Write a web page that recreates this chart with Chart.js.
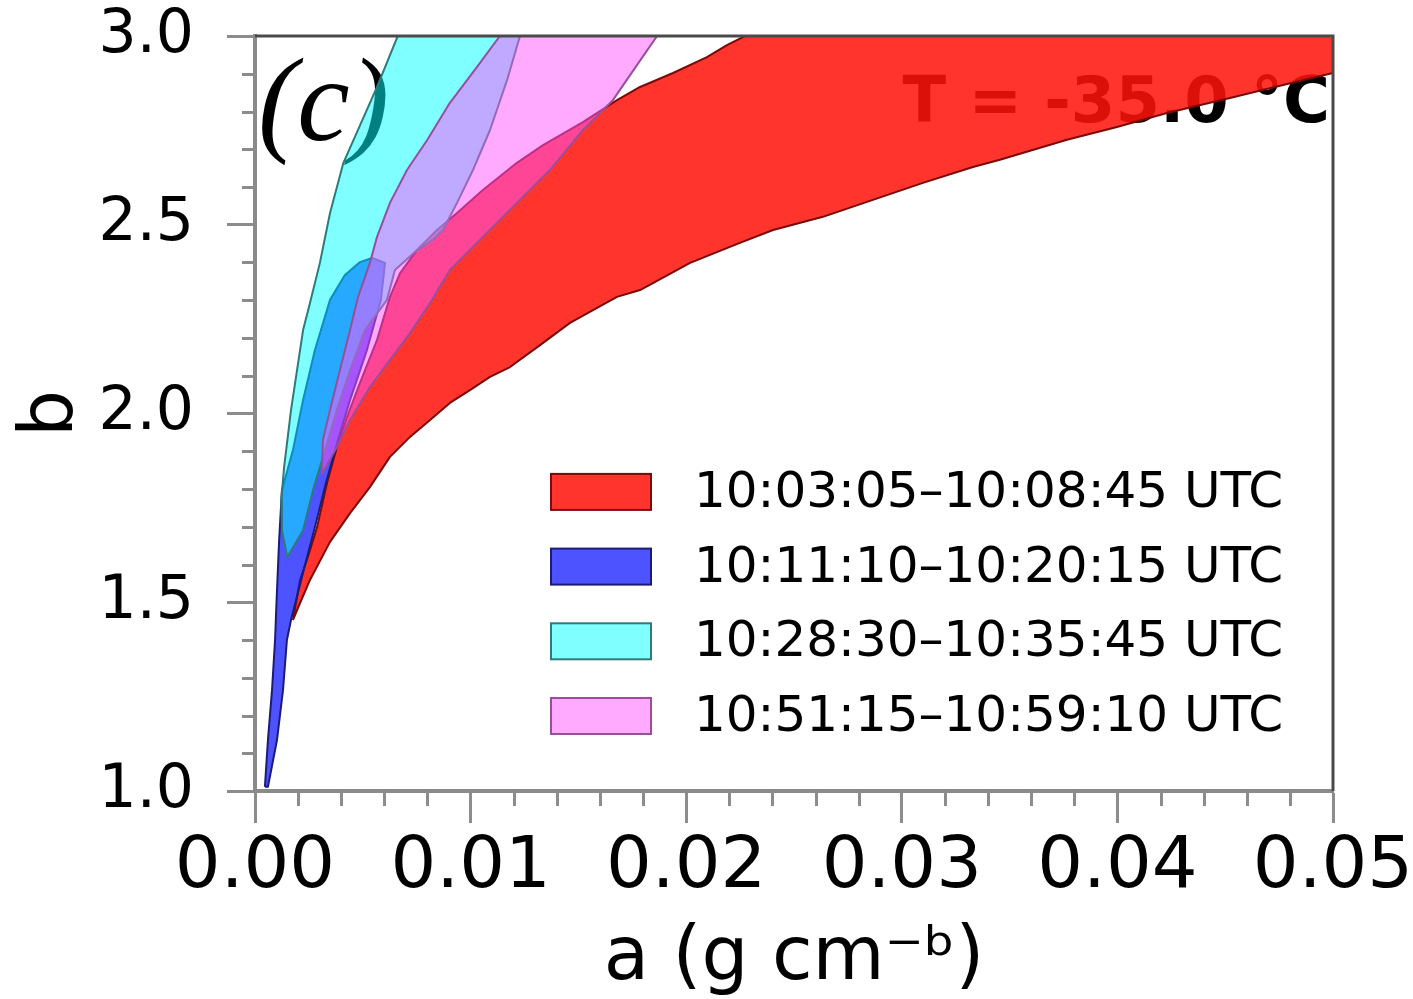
<!DOCTYPE html>
<html>
<head>
<meta charset="utf-8">
<script src="https://cdn.jsdelivr.net/npm/chart.js@4.4.1/dist/chart.umd.min.js"></script>
<style>
  body { margin: 0; background: #fff; }
  canvas { display: block; }
</style>
</head>
<body>
<canvas id="graph_ab" width="1413" height="999"></canvas>
<script>
// panel (c): allowed (a, b) envelopes at T = -35.0 C
// every band is one closed outline: lower/right edge outward, upper/left edge back

var bandLabels = ['10:03:05\u201310:08:45 UTC', '10:11:10\u201310:20:15 UTC',
                  '10:28:30\u201310:35:45 UTC', '10:51:15\u201310:59:10 UTC'];

var redA = [0.00176, 0.00209, 0.00255, 0.00348, 0.00441, 0.00533, 0.00626, 0.00719, 0.00812, 0.00904,
            0.00997, 0.0109, 0.01183, 0.01322, 0.01461, 0.01679, 0.01786, 0.02018, 0.02249, 0.02403,
            0.02634, 0.02866, 0.03098, 0.0333, 0.03455, 0.03766, 0.03998, 0.0423, 0.04536, 0.04768,
            0.05, 0.05, 0.02273, 0.02189, 0.02096, 0.01939, 0.01786, 0.01679, 0.01521, 0.01336,
            0.01215, 0.01057, 0.00937, 0.00844, 0.00751, 0.00673, 0.00626, 0.00566, 0.00487, 0.00427,
            0.0038, 0.00334, 0.00288, 0.00241, 0.00209, 0.00176];
var redB = [1.453, 1.498, 1.559, 1.660, 1.736, 1.805, 1.885, 1.938, 1.983, 2.028,
            2.062, 2.097, 2.123, 2.181, 2.240, 2.309, 2.327, 2.399, 2.452, 2.486,
            2.521, 2.566, 2.611, 2.653, 2.672, 2.725, 2.759, 2.796, 2.838, 2.870,
            2.902, 3.0, 3.0, 2.976, 2.944, 2.902, 2.865, 2.830, 2.772, 2.711,
            2.664, 2.592, 2.531, 2.486, 2.433, 2.372, 2.309, 2.195, 2.081, 1.991,
            1.911, 1.816, 1.699, 1.612, 1.559, 1.453];

var blueA = [0.00046, 0.0006, 0.00079, 0.00093, 0.00102, 0.00112, 0.00125, 0.00176, 0.00223, 0.00278,
             0.00348, 0.00417, 0.00487, 0.00543, 0.00603, 0.00584, 0.00519, 0.00441, 0.00385, 0.00329,
             0.00278, 0.00232, 0.00167, 0.00148, 0.0013, 0.00102, 0.0006, 0.00046];
var blueB = [1.011, 1.135, 1.268, 1.400, 1.532, 1.665, 1.797, 1.903, 2.036, 2.168,
             2.301, 2.367, 2.401, 2.412, 2.399, 2.301, 2.168, 2.036, 1.930, 1.816,
             1.699, 1.599, 1.453, 1.400, 1.268, 1.135, 1.011, 1.011];

var cyanA = [0.00662, 0.00566, 0.0041, 0.00348, 0.00301, 0.00255, 0.00223, 0.00209, 0.00167, 0.00135,
             0.00122, 0.00125, 0.0015, 0.00223, 0.00269, 0.00325, 0.0038, 0.00441, 0.0051, 0.00612,
             0.00649, 0.00742, 0.00825, 0.00872, 0.00937, 0.01011, 0.0109, 0.01169, 0.01229, 0.00662];
var cyanB = [3.0, 2.865, 2.664, 2.531, 2.399, 2.293, 2.221, 2.168, 2.009, 1.858,
             1.771, 1.690, 1.620, 1.691, 1.797, 1.903, 2.009, 2.115, 2.221, 2.301,
             2.380, 2.428, 2.460, 2.486, 2.558, 2.645, 2.751, 2.883, 3.0, 3.0];

var pinkA = [0.01136, 0.0103, 0.00904, 0.00798, 0.00705, 0.00626, 0.00566, 0.00533, 0.00478, 0.00441,
             0.00394, 0.00348, 0.00315, 0.0031, 0.0038, 0.00441, 0.00533, 0.00626, 0.00719, 0.00821,
             0.00904, 0.01057, 0.01215, 0.01368, 0.01521, 0.0166, 0.01762, 0.01865, 0.01136];
var pinkB = [3.0, 2.918, 2.823, 2.724, 2.645, 2.558, 2.468, 2.399, 2.309, 2.221,
             2.115, 2.009, 1.930, 1.840, 1.911, 1.983, 2.070, 2.142, 2.213, 2.301,
             2.380, 2.468, 2.558, 2.645, 2.751, 2.830, 2.915, 3.0, 3.0];

var xTickValues = [0.00, 0.01, 0.02, 0.03, 0.04, 0.05];
var yTickValues = [1.0, 1.5, 2.0, 2.5, 3.0];

function toPoints(a, b) {
    var pts = [];
    for (var i = 0; i < a.length; i++) {
        pts.push({x: a[i], y: b[i]});
    }
    return pts;
}

var sansFont = "'DejaVu Sans', 'Noto Sans', sans-serif";
var tickGray = '#8c8c8c';

function band(label, a, b, fillColor, lineColor, order) {
    return {
        label: label,
        data: toPoints(a, b),
        showLine: true,
        fill: 'shape',
        backgroundColor: fillColor,
        borderColor: lineColor,
        borderWidth: 2,
        borderJoinStyle: 'round',
        pointRadius: 0,
        tension: 0,
        order: order
    };
}

// minor ticks, top/right frame, panel letter, temperature, legend
var decorPlugin = {
    id: 'decor',
    beforeDatasetsDraw: function (chart) {
        var ctx = chart.ctx;
        var area = chart.chartArea;
        ctx.save();
        ctx.fillStyle = '#000';
        ctx.textBaseline = 'alphabetic';
        ctx.textAlign = 'left';
        ctx.font = "italic 118px 'Liberation Serif', 'DejaVu Serif', serif";
        ctx.fillText('(c)', area.left + 3, area.top + 104);
        ctx.textAlign = 'right';
        ctx.font = 'bold 64px ' + sansFont;
        ctx.fillText('T = -35.0 \u00b0C', area.right - 3, area.top + 86);
        ctx.restore();
    },
    afterDatasetsDraw: function (chart) {
        var ctx = chart.ctx;
        var area = chart.chartArea;
        var xs = chart.scales.x;
        var ys = chart.scales.y;
        ctx.save();

        // frame on top and right
        ctx.strokeStyle = '#4a4a4a';
        ctx.lineWidth = 3;
        ctx.beginPath();
        ctx.moveTo(area.left, area.top);
        ctx.lineTo(area.right, area.top);
        ctx.lineTo(area.right, area.bottom);
        ctx.stroke();

        // minor ticks
        ctx.strokeStyle = tickGray;
        ctx.lineWidth = 3;
        ctx.beginPath();
        for (var i = 1; i < 25; i++) {
            if (i % 5 === 0) continue;
            var px = Math.round(xs.getPixelForValue(i * 0.002)) + 0.5;
            ctx.moveTo(px, area.bottom);
            ctx.lineTo(px, area.bottom + 15);
        }
        for (var j = 1; j < 20; j++) {
            if (j % 5 === 0) continue;
            var py = Math.round(ys.getPixelForValue(1 + j * 0.1)) + 0.5;
            ctx.moveTo(area.left - 13, py);
            ctx.lineTo(area.left, py);
        }
        ctx.stroke();

        // legend
        var ds = chart.data.datasets;
        ctx.font = '50px ' + sansFont;
        ctx.textAlign = 'left';
        ctx.textBaseline = 'middle';
        for (var k = 0; k < ds.length; k++) {
            var cy = area.bottom - 75 - (ds.length - 1 - k) * 74.7;
            var sx = area.right - 782;
            ctx.fillStyle = '#fff';
            ctx.fillRect(sx, cy - 18, 100, 36);
            ctx.fillStyle = ds[k].backgroundColor;
            ctx.fillRect(sx, cy - 18, 100, 36);
            ctx.strokeStyle = ds[k].borderColor;
            ctx.lineWidth = 2;
            ctx.strokeRect(sx, cy - 18, 100, 36);
            ctx.fillStyle = '#000';
            ctx.fillText(ds[k].label, area.right - 639, cy + 2);
        }
        ctx.restore();
    }
};

var ctx = document.getElementById('graph_ab').getContext('2d');

var myChart = new Chart(ctx, {
    type: 'scatter',
    data: {
        datasets: [
            band(bandLabels[0], redA, redB, 'rgba(255, 20, 10, 0.86)', '#7a0a0a', 4),
            band(bandLabels[1], blueA, blueB, 'rgba(0, 10, 255, 0.70)', '#1c1c78', 3),
            band(bandLabels[2], cyanA, cyanB, 'rgba(0, 255, 255, 0.50)', '#2f7a7a', 2),
            band(bandLabels[3], pinkA, pinkB, 'rgba(255, 85, 255, 0.50)', '#9a4e9a', 1)
        ]
    },
    options: {
        responsive: false,
        animation: false,
        events: [],
        layout: {
            padding: {top: 36, right: 80, bottom: 0, left: 0}
        },
        scales: {
            x: {
                type: 'linear',
                min: 0,
                max: 0.05,
                afterFit: function (scale) {
                    scale.height = 208;
                    scale.paddingLeft = 0;
                    scale.paddingRight = 0;
                },
                afterBuildTicks: function (scale) {
                    scale.ticks = xTickValues.map(function (v) { return {value: v}; });
                },
                ticks: {
                    callback: function (v) { return Number(v).toFixed(2); },
                    font: {size: 72, family: sansFont},
                    color: '#000',
                    padding: 2,
                    maxRotation: 0,
                    autoSkip: false
                },
                grid: {
                    drawOnChartArea: false,
                    drawTicks: true,
                    tickLength: 32,
                    tickColor: tickGray,
                    tickWidth: 3
                },
                border: {display: true, color: '#8a8a8a', width: 4},
                title: {
                    display: true,
                    text: 'a (g cm\u207b\u1d47)',
                    font: {size: 74, family: sansFont},
                    color: '#000',
                    padding: {top: 0, bottom: -5}
                }
            },
            y: {
                type: 'linear',
                min: 1,
                max: 3,
                afterFit: function (scale) {
                    scale.width = 255;
                    scale.paddingTop = 0;
                    scale.paddingBottom = 0;
                },
                afterBuildTicks: function (scale) {
                    scale.ticks = yTickValues.map(function (v) { return {value: v}; });
                },
                ticks: {
                    callback: function (v) { return Number(v).toFixed(1); },
                    font: {size: 60, family: sansFont},
                    color: '#000',
                    padding: 33
                },
                grid: {
                    drawOnChartArea: false,
                    drawTicks: true,
                    tickLength: 28,
                    tickColor: tickGray,
                    tickWidth: 3
                },
                border: {display: true, color: '#8a8a8a', width: 4},
                title: {
                    display: true,
                    text: 'b',
                    font: {size: 74, family: sansFont},
                    color: '#000',
                    padding: {top: 8, bottom: 0}
                }
            }
        },
        plugins: {
            legend: {display: false},
            tooltip: {enabled: false}
        }
    },
    plugins: [decorPlugin]
});
</script>
</body>
</html>
